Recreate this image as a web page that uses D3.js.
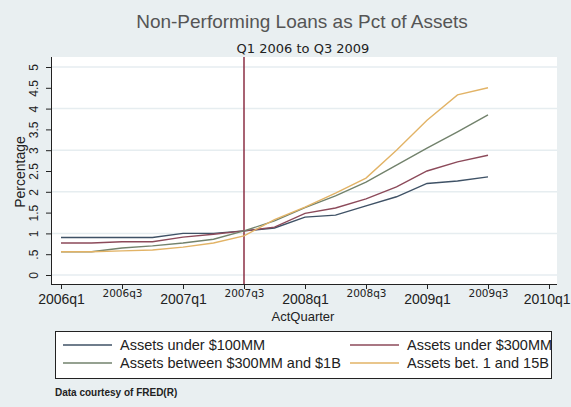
<!doctype html>
<html lang="en">
  <head>
    <meta charset="utf-8">
    <title>Non-Performing Loans as Pct of Assets</title>
    <script src="https://cdn.jsdelivr.net/npm/d3@7/dist/d3.min.js"></script>
    <style>
    body {
      margin: 0;
      background: #e9eff1;
    }
    svg text {
      font-family: "Liberation Sans", Arial, sans-serif;
    }
    </style>
  </head>

  <body>
    <svg width="571" height="407"></svg>

    <script>
      // quarters 2006q1 .. 2009q3
      var quarters = ['2006q1', '2006q2', '2006q3', '2006q4', '2007q1', '2007q2', '2007q3', '2007q4',
                      '2008q1', '2008q2', '2008q3', '2008q4', '2009q1', '2009q2', '2009q3'];

      var under100MM = [0.90, 0.90, 0.90, 0.90, 1.00, 1.00, 1.06, 1.13, 1.39, 1.44, 1.66, 1.88, 2.20, 2.26, 2.36];
      var under300MM = [0.77, 0.77, 0.80, 0.80, 0.91, 0.98, 1.06, 1.15, 1.48, 1.61, 1.83, 2.12, 2.50, 2.72, 2.88];
      var between300MM1B = [0.56, 0.56, 0.65, 0.70, 0.77, 0.86, 1.06, 1.30, 1.62, 1.90, 2.23, 2.64, 3.05, 3.44, 3.85];
      var bet1and15B = [0.56, 0.56, 0.58, 0.60, 0.67, 0.77, 0.94, 1.33, 1.63, 1.97, 2.33, 3.00, 3.72, 4.33, 4.50];

      var seriesNames = ['Assets under $100MM', 'Assets under $300MM', 'Assets between $300MM and $1B', 'Assets bet. 1 and 15B'];
      var seriesColors = ['#3f5266', '#8c4a5a', '#72826c', '#e2b366'];

      var xTickLabels = ['2006q1', '2006q3', '2007q1', '2007q3', '2008q1', '2008q3', '2009q1', '2009q3', '2010q1'];
      var yTicks = [0, 0.5, 1, 1.5, 2, 2.5, 3, 3.5, 4, 4.5, 5];
      var yTickLabels = ['0', '.5', '1', '1.5', '2', '2.5', '3', '3.5', '4', '4.5', '5'];
      var markerQuarter = 6; // 2007q3

      var svg = d3.select('svg');
      var allSeries = [under100MM, under300MM, between300MM1B, bet1and15B];

      var xScale = d3.scaleLinear().domain([0, 16]).range([61, 549]);
      var yScale = d3.scaleLinear().domain([0, 5]).range([275, 67]);

      // plot region
      svg.append('rect')
        .attr('x', 51).attr('y', 57)
        .attr('width', 506).attr('height', 227)
        .attr('fill', '#ffffff');

      // grid
      svg.selectAll('line.grid').data([0, 1, 2, 3, 4, 5])
        .enter()
          .append('line')
          .attr('class', 'grid')
          .attr('x1', 51).attr('x2', 557)
          .attr('y1', function(d){ return yScale(d); })
          .attr('y2', function(d){ return yScale(d); })
          .attr('stroke', '#e6edf0')
          .attr('stroke-width', 1.5);

      // axes
      var horAxis = d3.axisBottom(xScale)
        .tickValues(d3.range(0, 17, 2))
        .tickSize(5)
        .tickFormat(function(d, i){ return xTickLabels[i]; });

      var gx = svg.append('g')
        .attr('transform', 'translate(0, 284)')
        .call(horAxis);
      gx.select('.domain').attr('d', 'M51,0.5H557').attr('stroke', '#222');
      gx.selectAll('.tick line').attr('stroke', '#222');
      gx.selectAll('.tick text')
        .attr('fill', '#222')
        .style('font-family', function(d, i){ return i % 2 ? '"DejaVu Sans", sans-serif' : null; })
        .attr('font-size', function(d, i){ return i % 2 ? '10.5px' : '14px'; })
        .attr('y', function(d, i){ return i % 2 ? 6 : 10; });
      // last label sits at the window edge, as in the original
      gx.selectAll('.tick text').filter(function(d){ return d === 16; })
        .attr('text-anchor', 'end')
        .attr('x', 21);

      var vertAxis = d3.axisLeft(yScale)
        .tickValues(yTicks)
        .tickSize(5)
        .tickFormat(function(d, i){ return yTickLabels[i]; });

      var gy = svg.append('g')
        .attr('transform', 'translate(51, 0)')
        .call(vertAxis);
      gy.select('.domain').attr('d', 'M0.5,57V284').attr('stroke', '#222');
      gy.selectAll('.tick line').attr('stroke', '#222');
      gy.selectAll('.tick text')
        .attr('fill', '#222')
        .attr('font-size', '12px')
        .attr('x', 0).attr('y', 0).attr('dy', 0)
        .attr('text-anchor', 'middle')
        .attr('transform', 'translate(-17, 0) rotate(-90)')
        .attr('dominant-baseline', 'central');

      // marker line at 2007q3
      svg.append('line')
        .attr('x1', xScale(markerQuarter)).attr('x2', xScale(markerQuarter))
        .attr('y1', 57).attr('y2', 284)
        .attr('stroke', '#8b2f45')
        .attr('stroke-width', 1.5);

      // series
      var line = d3.line()
        .x(function(d, i){ return xScale(i); })
        .y(function(d){ return yScale(d); });

      svg.selectAll('path.series').data(allSeries)
        .enter()
          .append('path')
          .attr('class', 'series')
          .attr('d', line)
          .attr('fill', 'none')
          .attr('stroke', function(d, i){ return seriesColors[i]; })
          .attr('stroke-width', 1.4);

      // titles
      svg.append('text')
        .attr('x', 302).attr('y', 28)
        .attr('text-anchor', 'middle')
        .attr('font-size', '19px')
        .attr('fill', '#555')
        .text('Non-Performing Loans as Pct of Assets');

      svg.append('text')
        .attr('x', 303).attr('y', 53)
        .attr('text-anchor', 'middle')
        .attr('font-size', '13px')
        .style('font-family', '"DejaVu Sans", sans-serif')
        .attr('fill', '#222')
        .text('Q1 2006 to Q3 2009');

      svg.append('text')
        .attr('transform', 'translate(25, 172) rotate(-90)')
        .attr('text-anchor', 'middle')
        .attr('font-size', '14px')
        .attr('fill', '#222')
        .text('Percentage');

      svg.append('text')
        .attr('x', 303).attr('y', 321)
        .attr('text-anchor', 'middle')
        .attr('font-size', '13px')
        .attr('fill', '#222')
        .text('ActQuarter');

      // legend
      var legend = svg.append('g');
      legend.append('rect')
        .attr('x', 55.5).attr('y', 331.5)
        .attr('width', 496).attr('height', 47)
        .attr('fill', '#ffffff')
        .attr('stroke', '#222');

      svg.append('clipPath').attr('id', 'legclip')
        .append('rect')
        .attr('x', 56).attr('y', 332).attr('width', 495).attr('height', 46);

      var itemsWrap = legend.append('g').attr('clip-path', 'url(#legclip)');

      var items = itemsWrap.selectAll('g.item').data(seriesNames)
        .enter()
          .append('g')
          .attr('class', 'item')
          .attr('transform', function(d, i){
            return 'translate(' + (i % 2 ? 350 : 63) + ',' + (i < 2 ? 345 : 363) + ')';
          });

      items.append('line')
        .attr('x1', 0).attr('x2', 49)
        .attr('stroke', function(d, i){ return seriesColors[i]; })
        .attr('stroke-width', 1.4);

      items.append('text')
        .attr('x', 57).attr('y', 5)
        .attr('font-size', '14.5px')
        .attr('fill', '#222')
        .text(function(d){ return d; });

      svg.append('text')
        .attr('x', 55).attr('y', 396)
        .attr('font-size', '10px')
        .attr('font-weight', 'bold')
        .attr('fill', '#222')
        .text('Data courtesy of FRED(R)');
    </script>
  </body>
</html>
